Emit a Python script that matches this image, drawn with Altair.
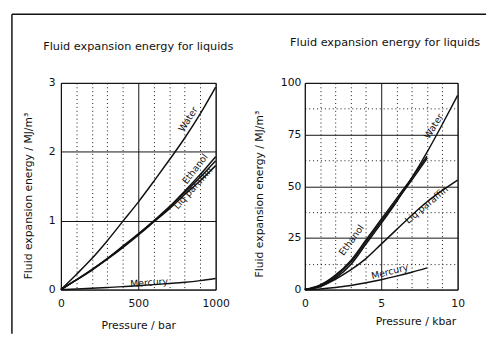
import altair as alt
import pandas as pd

# ---------------- data ----------------
p_bar = [0, 100, 200, 300, 400, 500, 600, 700, 800, 900, 1000]
water_bar = [0, 0.22, 0.45, 0.71, 0.99, 1.27, 1.57, 1.88, 2.20, 2.55, 2.94]
ethanol_bar_a = [0, 0.14, 0.29, 0.45, 0.63, 0.81, 1.00, 1.20, 1.43, 1.67, 1.93]
ethanol_bar_b = [0, 0.14, 0.29, 0.45, 0.62, 0.80, 0.99, 1.19, 1.41, 1.63, 1.87]
liqpar_bar = [0, 0.14, 0.28, 0.44, 0.61, 0.79, 0.98, 1.17, 1.38, 1.58, 1.80]
mercury_bar = [0, 0.008, 0.018, 0.03, 0.043, 0.057, 0.072, 0.088, 0.106, 0.13, 0.16]

p_kbar = [0, 1, 2, 3, 4, 5, 6, 7, 8, 9, 10]
water_kbar = [0, 1.5, 5.5, 12, 22, 32, 42.5, 54, 66.5, 80, 94]
p_kbar_short = [0, 1, 2, 3, 4, 5, 6, 7, 8]
ethanol_kbar_a = [0, 2.2, 7, 14, 24, 34, 44, 54, 64.5]
ethanol_kbar_b = [0, 1.9, 6.3, 13.2, 23, 33, 43, 53, 63.5]
liqpar_kbar = [0, 1.5, 5, 9.5, 15, 22, 29, 36, 42.5, 48, 53]
mercury_kbar = [0, 0.3, 1.0, 2.0, 3.3, 4.8, 6.5, 8.4, 10.5]

# curve labels: text, x, y (data units), angle
lab_left_text = ["Water", "Ethanol", "Liq paraffin", "Mercury"]
lab_left_x = [823, 868, 854, 570]
lab_left_y = [2.47, 1.75, 1.47, 0.10]
lab_left_angle = [302, 308, 312, 356]

lab_right_text = ["Water", "Ethanol", "Liq paraffin", "Mercury"]
lab_right_x = [8.44, 3.06, 7.97, 5.56]
lab_right_y = [79, 23.9, 41, 8.6]
lab_right_angle = [302, 306, 320, 346]

panel_title = "Fluid expansion energy for liquids"

FONT = "DejaVu Sans"
INK = "#111111"


def long_df(pairs):
    rows = []
    for name, xs, ys in pairs:
        for a, b in zip(xs, ys):
            rows.append({"series": name, "p": a, "e": b})
    return pd.DataFrame(rows)


df_left = long_df([
    ("Water", p_bar, water_bar),
    ("Ethanol a", p_bar, ethanol_bar_a),
    ("Ethanol b", p_bar, ethanol_bar_b),
    ("Liq paraffin", p_bar, liqpar_bar),
    ("Mercury", p_bar, mercury_bar),
])
df_right = long_df([
    ("Water", p_kbar, water_kbar),
    ("Ethanol a", p_kbar_short, ethanol_kbar_a),
    ("Ethanol b", p_kbar_short, ethanol_kbar_b),
    ("Liq paraffin", p_kbar, liqpar_kbar),
    ("Mercury", p_kbar_short, mercury_kbar),
])
lab_left = pd.DataFrame({"t": lab_left_text, "p": lab_left_x, "e": lab_left_y, "a": lab_left_angle})
lab_right = pd.DataFrame({"t": lab_right_text, "p": lab_right_x, "e": lab_right_y, "a": lab_right_angle})

DOT = [1, 3]


def grid_axis(values, major_test, title, **kw):
    return alt.Axis(
        values=values,
        title=title,
        format="d",
        grid=True,
        gridColor=INK,
        gridWidth=1,
        gridDash=alt.condition(major_test, alt.value([]), alt.value(DOT)),
        gridOpacity=1,
        ticks=False,
        tickSize=0,
        domain=False,
        labelOverlap=False,
        labelFlush=False,
        labelExpr=f"({major_test}) ? datum.label : ''",
        labelFont=FONT,
        labelFontSize=11,
        labelColor=INK,
        titleFont=FONT,
        titleFontSize=11,
        titleFontWeight="normal",
        titleColor=INK,
        titleAlign="center",
        **kw,
    )


def panel(df, labs, xdom, ydom, xvals, yvals, xmaj, ymaj, xtitle, ytitle, xkw, ykw,
          title_x, title_y, extra=None):
    x = alt.X("p:Q", scale=alt.Scale(domain=xdom, nice=False, zero=False),
              axis=grid_axis(xvals, xmaj, xtitle, titleBaseline="top", **xkw))
    y = alt.Y("e:Q", scale=alt.Scale(domain=ydom, nice=False, zero=False),
              axis=grid_axis(yvals, ymaj, ytitle, titleBaseline="bottom", **ykw))
    lines = alt.Chart(df).mark_line(color=INK, strokeWidth=1.5, interpolate="monotone").encode(
        x=x, y=y, detail="series:N")
    texts = alt.Chart(labs).mark_text(font=FONT, fontSize=9.5, color=INK, align="center",
                                      baseline="middle").encode(
        x=x, y=y, text="t:N", angle=alt.Angle("a:Q", scale=None))
    head = alt.Chart(pd.DataFrame({"t": [panel_title]})).mark_text(
        font=FONT, fontSize=11.5, color=INK, align="center", baseline="middle").encode(
        x=alt.value(title_x), y=alt.value(title_y), text="t:N")
    layers = [lines, texts, head]
    if extra is not None:
        layers += extra
    return alt.layer(*layers)


one = pd.DataFrame({"k": [0]})
frame_top = alt.Chart(one).mark_rule(color=INK, strokeWidth=1.5).encode(
    x=alt.value(-50), x2=alt.value(434), y=alt.value(-70))
frame_left = alt.Chart(one).mark_rule(color=INK, strokeWidth=1.5).encode(
    x=alt.value(-50), y=alt.value(-70), y2=alt.value(256))

left = panel(
    df_left, lab_left, [0, 1000], [0, 3],
    list(range(0, 1001, 100)), [0, 0.5, 1, 1.5, 2, 2.5, 3],
    "datum.value % 500 === 0", "datum.value % 1 === 0",
    "Pressure / bar", "Fluid expansion energy / MJ/m³",
    dict(labelPadding=8, titleY=31),
    dict(labelPadding=6, titleX=-28, titleY=115),
    title_x=79, title_y=-37,
    extra=[frame_top, frame_left],
).properties(width=158, height=211)

right = panel(
    df_right, lab_right, [0, 10], [0, 100],
    list(range(0, 11)), [0, 12.5, 25, 37.5, 50, 62.5, 75, 87.5, 100],
    "datum.value % 5 === 0", "datum.value % 25 === 0",
    "Pressure / kbar", "Fluid expansion energy / MJ/m³",
    dict(labelPadding=8, titleY=27, titleX=113),
    dict(labelPadding=4, titleX=-41, titleY=113),
    title_x=82, title_y=-41,
).properties(width=156, height=211)

chart = alt.hconcat(left, right, spacing=91, bounds="flush").properties(
    padding={"left": 2, "top": 1, "right": 0, "bottom": 0},
    background="white",
).configure_view(stroke=INK, strokeWidth=1)

chart.save("out.html", embed_options={"renderer": "svg", "actions": False})
